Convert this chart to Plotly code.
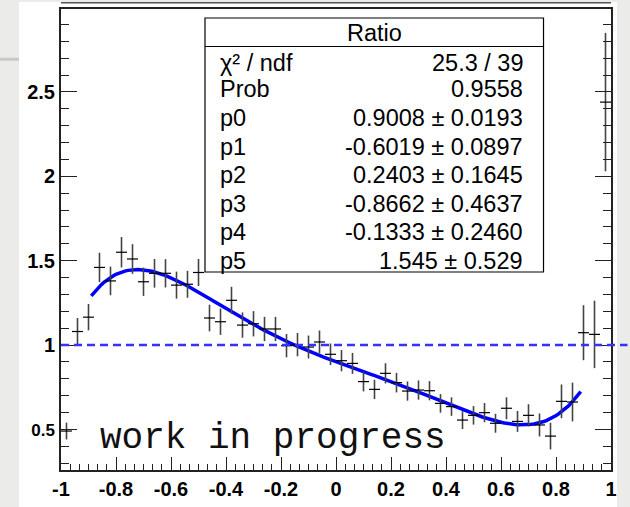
import numpy as np
import plotly.graph_objects as go

# histogram bin centres, ratio values and errors
bin_x = [-0.98, -0.94, -0.90, -0.86, -0.82, -0.78, -0.74, -0.70, -0.66, -0.62,
         -0.58, -0.54, -0.50, -0.46, -0.42, -0.38, -0.34, -0.30, -0.26, -0.22,
         -0.18, -0.14, -0.10, -0.06, -0.02, 0.02, 0.06, 0.10, 0.14, 0.18,
         0.22, 0.26, 0.30, 0.34, 0.38, 0.42, 0.46, 0.50, 0.54, 0.58,
         0.62, 0.66, 0.70, 0.74, 0.78, 0.82, 0.86, 0.90, 0.94, 0.98]
ratio = [0.49, 1.08, 1.165, 1.46, 1.38, 1.55, 1.51, 1.375, 1.425, 1.425,
         1.355, 1.36, 1.43, 1.16, 1.138, 1.265, 1.118, 1.126, 1.095, 1.095,
         0.996, 1.002, 0.988, 1.018, 0.945, 0.907, 0.891, 0.783, 0.737, 0.832,
         0.777, 0.727, 0.733, 0.729, 0.654, 0.635, 0.555, 0.583, 0.599, 0.536,
         0.625, 0.547, 0.583, 0.526, 0.46, 0.666, 0.662, 1.073, 1.063, 2.44]
ratio_err = [0.05, 0.08, 0.078, 0.087, 0.085, 0.09, 0.088, 0.084, 0.085, 0.084,
             0.08, 0.08, 0.08, 0.079, 0.078, 0.08, 0.075, 0.075, 0.072, 0.072,
             0.069, 0.069, 0.068, 0.068, 0.064, 0.063, 0.062, 0.058, 0.057, 0.06,
             0.058, 0.057, 0.057, 0.057, 0.055, 0.055, 0.053, 0.055, 0.057, 0.056,
             0.065, 0.062, 0.066, 0.068, 0.079, 0.10, 0.115, 0.163, 0.20, 0.41]
half_bin = 0.02

# pol5 fit result
par_names = ["p0", "p1", "p2", "p3", "p4", "p5"]
par_vals = [0.9008, -0.6019, 0.2403, -0.8662, -0.1333, 1.545]
par_errs = ["0.0193", "0.0897", "0.1645", "0.4637", "0.2460", "0.529"]
par_text = ["0.9008", "-0.6019", "0.2403", "-0.8662", "-0.1333", "1.545"]
fit_range = [-0.89, 0.89]
chi2_ndf = "25.3 / 39"
prob = "0.9558"

x_ticks = [-1, -0.8, -0.6, -0.4, -0.2, 0, 0.2, 0.4, 0.6, 0.8, 1]
x_ticktext = ["-1", "-0.8", "-0.6", "-0.4", "-0.2", "0", "0.2", "0.4", "0.6", "0.8", "1"]
y_ticks = [0.5, 1, 1.5, 2, 2.5]
y_ticktext = ['<span style="font-size:17px">0.5</span>', "1", "1.5", "2", "2.5"]

fx = np.linspace(fit_range[0], fit_range[1], 200)
fy = np.polyval(par_vals[::-1], fx)

fig = go.Figure()

fig.add_trace(go.Scatter(
    x=fx, y=fy, mode="lines",
    line={"color": "#0000ff", "width": 3.5},
    hoverinfo="skip",
))
fig.add_trace(go.Scatter(
    x=bin_x, y=ratio, mode="markers",
    marker={"size": 1, "color": "black"},
    error_y={"type": "data", "array": ratio_err, "color": "#444444",
             "thickness": 1.6, "width": 0},
    error_x={"type": "constant", "value": half_bin, "color": "black",
             "thickness": 1.2, "width": 0},
    cliponaxis=True,
))

# white page + upper pad edge on a grey slide background
fig.add_shape(type="rect", xref="paper", yref="paper",
              x0=-0.0764, x1=1.0109, y0=-0.09, y1=1.0152,
              fillcolor="white", line={"width": 0}, layer="below")
fig.add_shape(type="line", xref="paper", yref="paper",
              x0=0, x1=1, y0=1.0135, y1=1.0135,
              line={"color": "#555555", "width": 1.5})
fig.add_shape(type="line", xref="paper", yref="paper",
              x0=-0.111, x1=-0.0764, y0=0.891, y1=0.891,
              line={"color": "#c8c8c6", "width": 3})

# y = 1 reference line
fig.add_shape(type="line", xref="paper", yref="y",
              x0=0, x1=1.03, y0=1, y1=1,
              line={"color": "#3333ff", "width": 2.5, "dash": "8px,5px"})

# stats box
bx0, bx1, by0, by1, bsep = 0.2618, 0.8773, 0.4295, 0.9805, 0.9187
fig.add_shape(type="rect", xref="paper", yref="paper",
              x0=bx0, x1=bx1, y0=by0, y1=by1,
              fillcolor="white", line={"color": "black", "width": 1.2})
fig.add_shape(type="line", xref="paper", yref="paper",
              x0=bx0, x1=bx1, y0=bsep, y1=bsep,
              line={"color": "black", "width": 1.2})

stat_font = {"family": "Liberation Sans, Arial", "size": 23.5, "color": "black"}
fig.add_annotation(text="Ratio", xref="paper", yref="paper",
                   x=(bx0 + bx1) / 2, y=0.9488, showarrow=False,
                   xanchor="center", yanchor="middle", font=stat_font)

row_labels = ["χ² / ndf", "Prob"] + par_names
row_values = [chi2_ndf, prob] + [f"{v} ± {e}" for v, e in zip(par_text, par_errs)]
row_y = [0.8822, 0.8265, 0.7646, 0.7013, 0.6399, 0.5770, 0.5152, 0.4538]
for lab, val, yy in zip(row_labels, row_values, row_y):
    fig.add_annotation(text=lab, xref="paper", yref="paper", x=0.2855, y=yy,
                       showarrow=False, xanchor="left", yanchor="middle",
                       font=stat_font)
    fig.add_annotation(text=val, xref="paper", yref="paper", x=0.8436, y=yy,
                       showarrow=False, xanchor="right", yanchor="middle",
                       font=stat_font)

fig.add_annotation(text="work in progress", xref="paper", yref="paper",
                   x=0.068, y=0.02, showarrow=False,
                   xanchor="left", yanchor="bottom",
                   font={"family": "Liberation Mono", "size": 36, "color": "#111111"})

tick_font = {"family": "Liberation Sans, Arial", "size": 20, "color": "black",
             "weight": "bold"}
fig.update_xaxes(
    range=[-1, 1], tickvals=x_ticks, ticktext=x_ticktext,
    ticks="inside", ticklen=13, tickwidth=1.3, tickcolor="#222222",
    minor={"ticks": "inside", "ticklen": 6.5, "dtick": 0.2 / 6, "tick0": -1,
           "tickcolor": "#222222", "tickwidth": 1.2},
    showline=True, linecolor="#222222", linewidth=2, mirror=True,
    showgrid=False, zeroline=False, tickfont=tick_font, automargin=False,
)
fig.update_yaxes(
    range=[0.259, 2.992], tickvals=y_ticks, ticktext=y_ticktext,
    ticks="inside", ticklen=16, tickwidth=1.3, tickcolor="#222222",
    minor={"ticks": "inside", "ticklen": 8, "dtick": 0.1,
           "tickcolor": "#222222", "tickwidth": 1.2},
    showline=True, linecolor="#222222", linewidth=2, mirror="ticks",
    showgrid=False, zeroline=False, tickfont=tick_font, automargin=False,
)

fig.update_layout(
    width=630, height=507,
    margin={"l": 61, "r": 19, "t": 9, "b": 37, "autoexpand": False},
    paper_bgcolor="#ebebe9", plot_bgcolor="white",
    showlegend=False,
)

# drop the default page margin so the figure sits at the window corner
fig.write_html("out.html", config={"displayModeBar": False},
               post_script="document.body.style.margin='0';")
